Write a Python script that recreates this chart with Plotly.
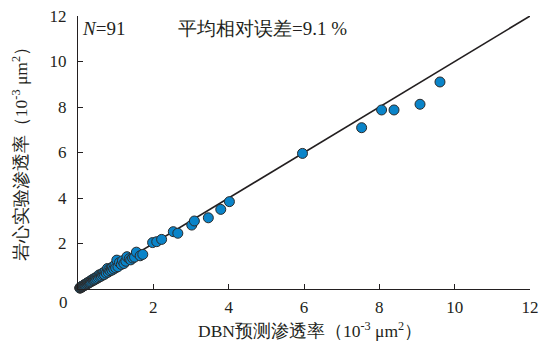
import plotly.graph_objects as go

# DBN predicted permeability (x) and core-measured permeability (y), 10^-3 μm²
pred_high = [9.61, 9.08, 8.39, 8.06, 7.53, 5.96, 4.02, 3.79, 3.46, 3.09, 3.02, 2.65, 2.53, 2.22, 2.09, 1.98]
meas_high = [9.10, 8.12, 7.87, 7.87, 7.09, 5.96, 3.84, 3.50, 3.13, 2.99, 2.81, 2.45, 2.52, 2.18, 2.08, 2.04]

pred_low = [1.72, 1.65, 1.55, 1.50, 1.45, 1.40, 1.36, 1.30, 1.27, 1.22, 1.18, 1.15, 1.10, 1.06, 1.03,
            1.00, 0.98, 0.95, 0.92, 0.90, 0.88, 0.85, 0.82, 0.80, 0.78, 0.75, 0.72, 0.70, 0.68, 0.66,
            0.64, 0.62, 0.60, 0.58, 0.56, 0.54, 0.52, 0.50, 0.48, 0.46, 0.45, 0.43, 0.41, 0.40, 0.38,
            0.36, 0.35, 0.33, 0.31, 0.30, 0.28, 0.27, 0.25, 0.24, 0.22, 0.21, 0.20, 0.18, 0.17, 0.16,
            0.15, 0.14, 0.13, 0.12, 0.11, 0.10, 0.10, 0.09, 0.08, 0.08, 0.07, 0.06, 0.06, 0.05, 0.05]
meas_low = [1.52, 1.46, 1.62, 1.40, 1.36, 1.28, 1.33, 1.42, 1.22, 1.12, 1.24, 1.08, 1.16, 0.98, 1.27,
            0.93, 1.05, 0.88, 0.97, 0.83, 0.92, 0.80, 0.86, 0.74, 0.90, 0.70, 0.76, 0.64, 0.72, 0.62,
            0.68, 0.57, 0.63, 0.54, 0.62, 0.50, 0.55, 0.46, 0.51, 0.43, 0.47, 0.40, 0.44, 0.37, 0.41,
            0.34, 0.38, 0.31, 0.33, 0.28, 0.30, 0.25, 0.27, 0.22, 0.24, 0.19, 0.21, 0.17, 0.19, 0.15,
            0.16, 0.13, 0.14, 0.11, 0.12, 0.09, 0.11, 0.08, 0.09, 0.07, 0.07, 0.06, 0.05, 0.05, 0.04]

pred = pred_high + pred_low
meas = meas_high + meas_low

line_x = [0, 12]
line_y = [0, 12]

tick_vals = [2, 4, 6, 8, 10, 12]
tick_text = ["2", "4", "6", "8", "10", "12"]

FONT = "Liberation Serif"

fig = go.Figure()
fig.add_trace(go.Scatter(x=line_x, y=line_y, mode="lines",
                         line=dict(color="#231f20", width=1.6), showlegend=False, hoverinfo="skip"))
fig.add_trace(go.Scatter(x=pred[::-1], y=meas[::-1], mode="markers",
                         marker=dict(size=10, color="#0a84c9", line=dict(color="#2b2b2b", width=1)),
                         showlegend=False, cliponaxis=False))

axis_common = dict(range=[0, 12], tickvals=tick_vals, ticktext=tick_text, ticks="inside",
                   ticklen=5, tickwidth=1, tickcolor="#231f20", showline=True, linecolor="#231f20",
                   linewidth=1, mirror=False, showgrid=False, zeroline=False, automargin=False,
                   tickfont=dict(family=FONT, size=17, color="#231f20"))

fig.update_layout(
    width=541, height=347,
    margin=dict(l=78, r=11, t=16, b=58),
    paper_bgcolor="white", plot_bgcolor="white",
    xaxis=dict(**axis_common, ticklabelstandoff=3),
    yaxis=dict(**axis_common, ticklabelstandoff=7),
    font=dict(family=FONT, color="#231f20"),
    annotations=[
        dict(text="0", xref="paper", yref="paper", x=-0.031, y=-0.048, showarrow=False,
             xanchor="center", yanchor="middle", font=dict(size=17)),
        dict(text="<i>N</i>=91", xref="paper", yref="paper", x=0.004, y=0.956, showarrow=False,
             xanchor="left", yanchor="middle", font=dict(size=19)),
        dict(text="平均相对误差=9.1 %", xref="paper", yref="paper", x=0.217, y=0.956, showarrow=False,
             xanchor="left", yanchor="middle", font=dict(size=19)),
        dict(text="DBN预测渗透率（10<sup>-3</sup> μm<sup>2</sup>）", xref="paper", yref="paper",
             x=0.513, y=-0.150, showarrow=False, xanchor="center", yanchor="middle", font=dict(size=17.5)),
        dict(text="岩心实验渗透率（10<sup>-3</sup> μm<sup>2</sup>）", xref="paper", yref="paper",
             x=-0.128, y=0.509, showarrow=False, xanchor="center", yanchor="middle",
             textangle=-90, font=dict(size=17.5)),
    ],
)

fig.write_html("out.html", config={"displayModeBar": False},
               post_script="document.body.style.margin='0';")
